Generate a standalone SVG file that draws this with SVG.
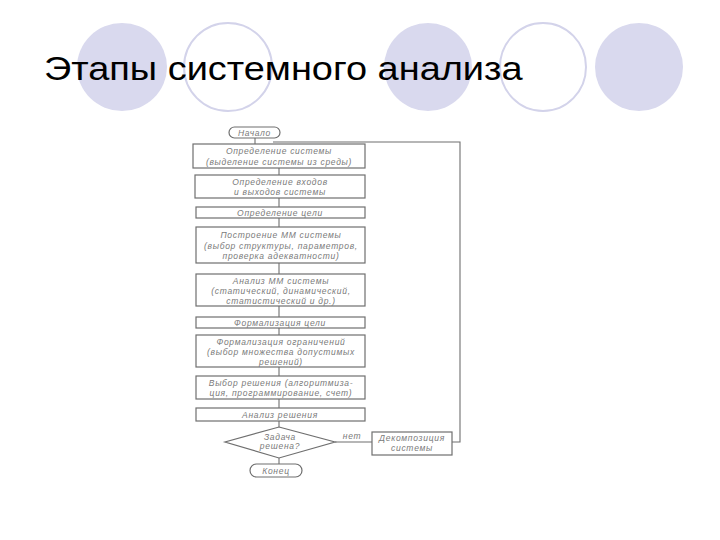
<svg xmlns="http://www.w3.org/2000/svg" width="720" height="540" viewBox="0 0 720 540">
<style>
.fc{fill:#d9d9ee}
.oc{fill:#fff;stroke:#d3d3ea;stroke-width:2}
.title{font-family:"Liberation Sans",Arial,sans-serif;font-size:33px;fill:#000}
.box{fill:#fff;stroke:#6f6f6f;stroke-width:1.2}
.t{font-family:"Liberation Sans",Arial,sans-serif;font-style:italic;font-size:8.5px;fill:#7a7a7a;text-anchor:middle;letter-spacing:0.7px}
.ln{fill:none;stroke:#6f6f6f;stroke-width:1.1}
</style>
<rect width="720" height="540" fill="#fff"/>
<g id="decor">
<ellipse class="fc" cx="122" cy="67" rx="45" ry="44"/>
<ellipse class="oc" cx="228" cy="67" rx="44" ry="44"/>
<ellipse class="fc" cx="428" cy="67" rx="44" ry="44"/>
<ellipse class="oc" cx="543" cy="67" rx="43" ry="44"/>
<ellipse class="fc" cx="639" cy="67" rx="44" ry="44"/>
</g>
<text class="title" transform="translate(44,80) scale(1.15,1)" x="0" y="0">Этапы системного анализа</text>
<g id="connectors">
<line class="ln" x1="255" y1="138" x2="255" y2="144"/>
<polyline class="ln" points="273,142 460,142 460,442 452,442"/>
<line class="ln" x1="279" y1="168" x2="279" y2="175"/>
<line class="ln" x1="279" y1="198" x2="279" y2="207"/>
<line class="ln" x1="279" y1="218" x2="279" y2="227"/>
<line class="ln" x1="279" y1="263" x2="279" y2="274"/>
<line class="ln" x1="279" y1="306" x2="279" y2="317"/>
<line class="ln" x1="279" y1="328" x2="279" y2="335"/>
<line class="ln" x1="279" y1="367" x2="279" y2="376"/>
<line class="ln" x1="279" y1="399" x2="279" y2="408"/>
<line class="ln" x1="279" y1="421" x2="279" y2="427"/>
<line class="ln" x1="335" y1="442" x2="372" y2="442"/>
<line class="ln" x1="279" y1="458" x2="279" y2="464"/>
<text class="t" x="352" y="439">нет</text>
</g>
<g id="start"><rect class="box" x="229" y="127" width="51" height="11" rx="5.5"/><text class="t" x="254.5" y="135.5">Начало</text></g>
<g id="n1"><rect class="box" x="193" y="144" width="172" height="24"/><text class="t" x="279" y="154">Определение системы</text><text class="t" x="279" y="165">(выделение системы из среды)</text></g>
<g id="n2"><rect class="box" x="195" y="175" width="170" height="23"/><text class="t" x="280" y="185">Определение входов</text><text class="t" x="280" y="195">и выходов системы</text></g>
<g id="n3"><rect class="box" x="196" y="207" width="169" height="11"/><text class="t" x="280" y="215.5">Определение цели</text></g>
<g id="n4"><rect class="box" x="196" y="227" width="169" height="36"/><text class="t" x="281" y="238">Построение ММ системы</text><text class="t" x="281" y="248.5">(выбор структуры, параметров,</text><text class="t" x="281" y="259">проверка адекватности)</text></g>
<g id="n5"><rect class="box" x="196" y="274" width="169" height="32"/><text class="t" x="281" y="284">Анализ ММ системы</text><text class="t" x="281" y="294">(статический, динамический,</text><text class="t" x="281" y="304">статистический и др.)</text></g>
<g id="n6"><rect class="box" x="196" y="317" width="169" height="11"/><text class="t" x="280" y="325.5">Формализация цели</text></g>
<g id="n7"><rect class="box" x="196" y="335" width="169" height="32"/><text class="t" x="281" y="345">Формализация ограничений</text><text class="t" x="281" y="355">(выбор множества допустимых</text><text class="t" x="281" y="365">решений)</text></g>
<g id="n8"><rect class="box" x="196" y="376" width="169" height="23"/><text class="t" x="281" y="386">Выбор решения (алгоритмиза-</text><text class="t" x="281" y="396">ция, программирование, счет)</text></g>
<g id="n9"><rect class="box" x="196" y="408" width="169" height="13"/><text class="t" x="280" y="417.5">Анализ решения</text></g>
<g id="decision"><polygon class="box" points="279,427 335,442 279,458 225,442"/><text class="t" x="280" y="440">Задача</text><text class="t" x="280" y="449">решена?</text></g>
<g id="decomp"><rect class="box" x="372" y="432" width="80" height="23"/><text class="t" x="412" y="441">Декомпозиция</text><text class="t" x="412" y="451">системы</text></g>
<g id="end"><rect class="box" x="250" y="464" width="52" height="13" rx="6.5"/><text class="t" x="276" y="473.5">Конец</text></g>
</svg>
